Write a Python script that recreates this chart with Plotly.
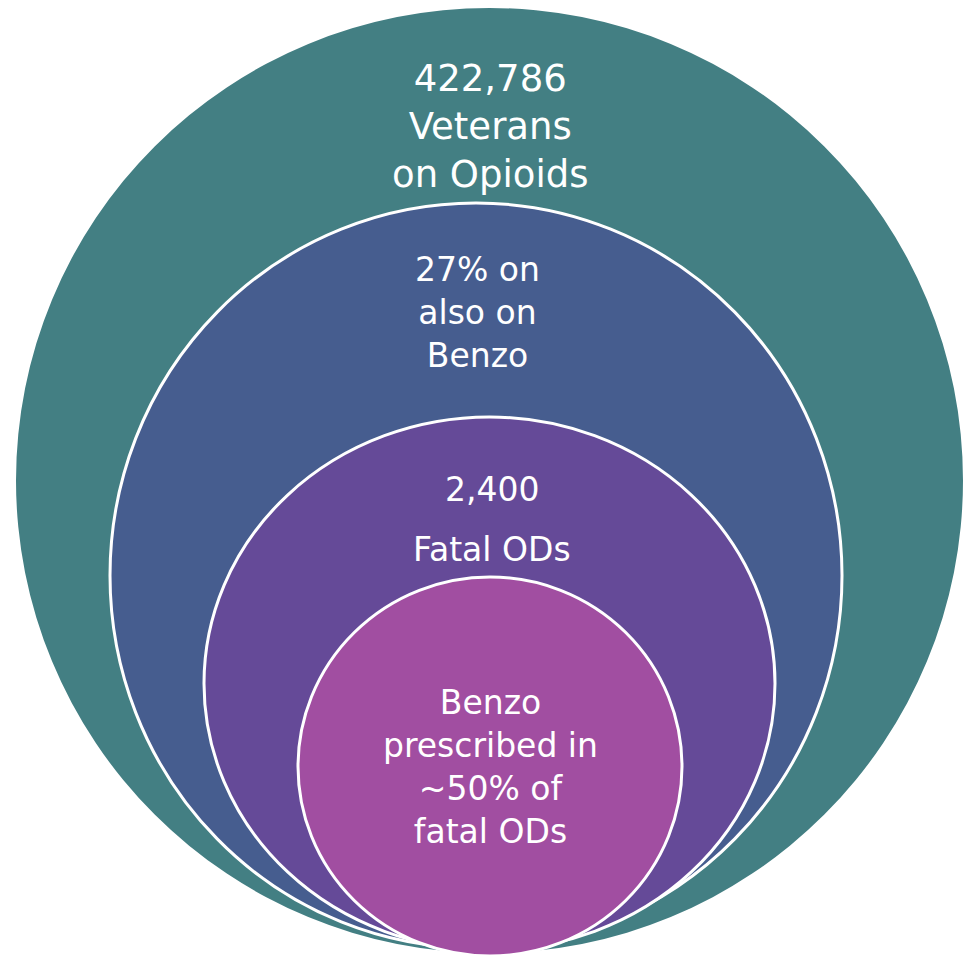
import plotly.graph_objects as go

# Nested groups (outer -> inner)
groups = ["Veterans on Opioids", "Also on Benzo", "Fatal ODs", "Benzo in fatal ODs"]
fill_colors = ["#437F83", "#465D8F", "#654A98", "#A14EA1"]

# Ellipse bounds in pixel space (x0, x1, y0, y1), y grows downward
circle_x0 = [16, 110, 204, 298]
circle_x1 = [963, 842, 775, 682]
circle_y0 = [8, 203, 417, 577]
circle_y1 = [953, 948, 950, 956]

# Text blocks for each group (one block per entry)
label_blocks = [
    ["422,786<br>Veterans<br>on Opioids"],
    ["27% on<br>also on<br>Benzo"],
    ["2,400", "Fatal ODs"],
    ["Benzo<br>prescribed in<br>~50% of<br>fatal ODs"],
]
label_x = [490, 477, 492, 490]
label_y = [[126], [312], [489, 549], [767]]
label_size = [37, 33, 33, 33]

W, H = 972, 955
fig = go.Figure()
fig.add_trace(go.Scatter(x=[0, W], y=[0, H], mode="markers",
                         marker=dict(opacity=0), hoverinfo="skip", showlegend=False))

for i in range(len(groups)):
    fig.add_shape(type="circle", xref="x", yref="y",
                  x0=circle_x0[i], x1=circle_x1[i], y0=circle_y0[i], y1=circle_y1[i],
                  fillcolor=fill_colors[i], line=dict(color="white", width=3 if i > 0 else 0),
                  layer="below")

for i, blocks in enumerate(label_blocks):
    for j, t in enumerate(blocks):
        fig.add_annotation(x=label_x[i], y=label_y[i][j], xref="x", yref="y",
                           text=t, showarrow=False, xanchor="center", yanchor="middle",
                           align="center",
                           font=dict(family="DejaVu Sans", size=label_size[i], color="white"))

fig.update_layout(
    width=W, height=H, margin=dict(l=0, r=0, t=0, b=0),
    paper_bgcolor="white", plot_bgcolor="white",
    xaxis=dict(range=[0, W], visible=False, fixedrange=True),
    yaxis=dict(range=[H, 0], visible=False, fixedrange=True),
    showlegend=False,
)
fig.write_html("out.html", config={"displayModeBar": False, "staticPlot": True},
               post_script="document.body.style.margin='0';document.body.style.padding='0';document.body.style.overflow='hidden';")
